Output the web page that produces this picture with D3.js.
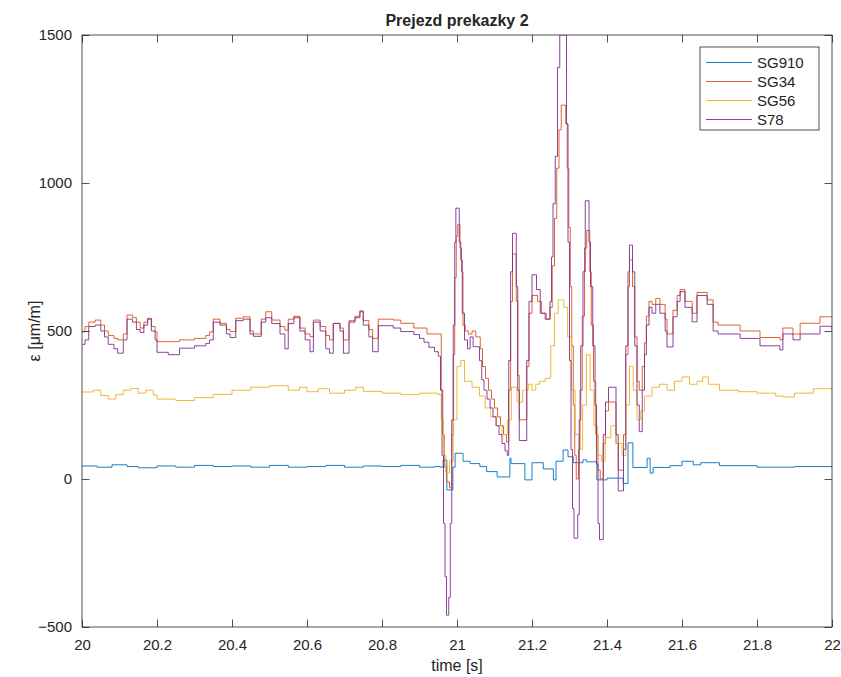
<!DOCTYPE html>
<html><head><meta charset="utf-8">
<script src="https://cdn.jsdelivr.net/npm/d3@7"></script>
<style>body{margin:0;background:#fff}text{font-family:"Liberation Sans",Arial,Helvetica,sans-serif;fill:#262626}</style>
</head><body><svg id="c" width="841" height="677"></svg>
<script>
const seriesNames = ["SG910", "SG34", "SG56", "S78"];
const seriesColors = ["#0072BD", "#D95319", "#EDB120", "#7E2F8E"];
const xTicks = [20, 20.2, 20.4, 20.6, 20.8, 21, 21.2, 21.4, 21.6, 21.8, 22];
const yTicks = [-500, 0, 500, 1000, 1500];
const titleText = "Prejezd prekazky 2";
const xLabel = "time [s]";
const yLabel = "ε [μm/m]";

// [time s, strain] pairs, sample-and-hold
const sg910 = [[20.000,44],[20.040,40],[20.080,48],[20.120,42],[20.150,38],[20.200,44],[20.250,40],[20.300,46],[20.350,42],[20.400,44],[20.450,40],[20.500,46],[20.550,40],[20.600,42],[20.650,46],[20.700,40],[20.750,44],[20.800,42],[20.850,46],[20.900,40],[20.940,42],[20.955,40],[20.963,64],[20.973,-37],[20.989,40],[20.995,87],[21.016,60],[21.035,52],[21.061,42],[21.079,25],[21.107,7],[21.141,70],[21.144,52],[21.181,-3],[21.200,55],[21.230,34],[21.257,-3],[21.264,60],[21.283,98],[21.296,75],[21.310,55],[21.336,65],[21.346,58],[21.373,-3],[21.400,3],[21.443,-15],[21.456,122],[21.469,39],[21.507,70],[21.515,20],[21.523,39],[21.568,45],[21.600,60],[21.630,48],[21.650,55],[21.700,45],[21.800,40],[21.900,42],[22.000,44]];

const sg34 = [[20.000,497],[20.008,515],[20.018,530],[20.035,537],[20.050,520],[20.060,500],[20.070,485],[20.085,475],[20.095,470],[20.110,490],[20.120,554],[20.135,545],[20.145,530],[20.155,510],[20.165,530],[20.175,543],[20.185,515],[20.195,497],[20.200,464],[20.260,470],[20.300,475],[20.330,485],[20.340,497],[20.350,540],[20.368,526],[20.385,505],[20.395,498],[20.410,543],[20.430,548],[20.448,500],[20.457,490],[20.478,540],[20.490,565],[20.506,537],[20.528,515],[20.541,503],[20.550,540],[20.565,550],[20.581,510],[20.595,490],[20.608,481],[20.617,537],[20.635,515],[20.650,485],[20.660,470],[20.670,526],[20.688,510],[20.697,470],[20.712,535],[20.728,550],[20.741,568],[20.750,535],[20.765,505],[20.775,475],[20.790,540],[20.830,537],[20.850,526],[20.885,510],[20.920,490],[20.958,300],[20.962,150],[20.966,40],[20.972,-10],[20.980,-30],[20.986,150],[20.990,420],[20.994,680],[20.998,820],[21.002,860],[21.008,780],[21.012,700],[21.016,520],[21.022,500],[21.030,490],[21.040,500],[21.050,480],[21.062,440],[21.068,380],[21.076,340],[21.084,300],[21.092,270],[21.100,240],[21.108,210],[21.116,180],[21.124,150],[21.132,125],[21.138,300],[21.143,600],[21.148,760],[21.158,600],[21.162,350],[21.166,200],[21.186,380],[21.192,560],[21.200,620],[21.215,600],[21.225,560],[21.238,540],[21.248,580],[21.254,720],[21.260,880],[21.266,1050],[21.272,1180],[21.278,1263],[21.290,1200],[21.294,1050],[21.298,850],[21.302,650],[21.306,450],[21.310,250],[21.314,80],[21.318,0],[21.324,100],[21.328,300],[21.334,550],[21.340,780],[21.346,840],[21.354,700],[21.358,520],[21.364,330],[21.370,150],[21.376,30],[21.382,0],[21.390,120],[21.396,230],[21.404,260],[21.424,120],[21.430,30],[21.444,150],[21.450,420],[21.456,650],[21.460,740],[21.468,650],[21.474,480],[21.480,330],[21.486,300],[21.494,380],[21.500,460],[21.505,550],[21.512,600],[21.520,590],[21.530,610],[21.541,590],[21.555,540],[21.560,490],[21.576,570],[21.587,620],[21.595,640],[21.608,600],[21.627,560],[21.640,630],[21.667,605],[21.683,530],[21.696,520],[21.755,500],[21.808,478],[21.861,470],[21.869,510],[21.896,490],[21.915,526],[21.968,548],[22.000,548]];

const sg56 = [[20.000,294],[20.030,300],[20.050,282],[20.070,270],[20.090,285],[20.110,300],[20.130,306],[20.150,290],[20.170,300],[20.190,284],[20.200,270],[20.250,265],[20.300,275],[20.350,286],[20.400,300],[20.450,310],[20.500,315],[20.550,300],[20.580,310],[20.600,295],[20.630,305],[20.660,290],[20.700,300],[20.730,310],[20.750,296],[20.800,290],[20.850,285],[20.900,290],[20.950,285],[20.958,200],[20.964,80],[20.970,20],[20.980,60],[20.990,200],[21.000,380],[21.010,400],[21.020,330],[21.040,310],[21.060,280],[21.075,240],[21.090,210],[21.105,180],[21.120,150],[21.135,200],[21.145,310],[21.160,260],[21.175,300],[21.190,320],[21.200,300],[21.210,320],[21.220,330],[21.235,340],[21.250,450],[21.260,560],[21.270,605],[21.285,580],[21.295,480],[21.305,300],[21.315,150],[21.325,100],[21.335,250],[21.345,420],[21.355,300],[21.365,180],[21.375,80],[21.385,60],[21.395,140],[21.410,180],[21.425,120],[21.440,80],[21.450,250],[21.460,380],[21.470,300],[21.480,200],[21.490,230],[21.500,280],[21.520,310],[21.540,320],[21.560,300],[21.580,330],[21.600,345],[21.620,320],[21.640,330],[21.655,345],[21.670,320],[21.700,300],[21.750,295],[21.800,290],[21.850,280],[21.870,277],[21.900,290],[21.950,305],[22.000,310]];

const s78 = [[20.000,455],[20.008,470],[20.018,515],[20.035,520],[20.050,500],[20.060,480],[20.070,455],[20.085,440],[20.095,425],[20.110,470],[20.120,540],[20.135,530],[20.145,505],[20.155,495],[20.165,520],[20.175,540],[20.185,500],[20.195,470],[20.200,428],[20.230,420],[20.260,442],[20.300,450],[20.330,458],[20.340,470],[20.350,530],[20.368,520],[20.385,490],[20.395,478],[20.410,535],[20.430,540],[20.448,490],[20.457,482],[20.478,530],[20.490,545],[20.506,525],[20.528,490],[20.541,440],[20.550,525],[20.565,545],[20.581,500],[20.595,470],[20.608,430],[20.617,530],[20.635,500],[20.650,440],[20.660,425],[20.670,525],[20.688,500],[20.697,425],[20.712,530],[20.728,545],[20.741,565],[20.750,520],[20.765,480],[20.775,430],[20.790,518],[20.830,510],[20.850,498],[20.885,488],[20.900,475],[20.912,462],[20.925,445],[20.940,430],[20.950,415],[20.956,300],[20.960,80],[20.964,-150],[20.968,-330],[20.972,-460],[20.978,-400],[20.982,-150],[20.986,200],[20.990,520],[20.994,800],[20.997,915],[21.006,800],[21.010,740],[21.014,560],[21.020,470],[21.028,440],[21.035,480],[21.043,447],[21.060,400],[21.066,335],[21.072,300],[21.080,270],[21.088,240],[21.096,210],[21.104,180],[21.112,150],[21.120,120],[21.128,95],[21.134,80],[21.138,400],[21.143,700],[21.148,830],[21.158,650],[21.162,300],[21.166,130],[21.186,400],[21.192,600],[21.200,690],[21.212,640],[21.222,560],[21.235,540],[21.248,600],[21.252,750],[21.256,930],[21.262,1090],[21.268,1390],[21.274,1500],[21.292,1200],[21.296,800],[21.300,400],[21.304,100],[21.308,-100],[21.312,-200],[21.322,-120],[21.326,200],[21.330,450],[21.336,700],[21.342,940],[21.352,800],[21.356,650],[21.362,450],[21.368,250],[21.372,50],[21.376,-150],[21.380,-205],[21.390,150],[21.396,260],[21.404,310],[21.424,150],[21.430,-40],[21.444,100],[21.450,450],[21.456,700],[21.460,790],[21.468,700],[21.474,450],[21.480,250],[21.486,160],[21.494,300],[21.500,420],[21.505,520],[21.512,580],[21.520,560],[21.530,590],[21.541,560],[21.555,500],[21.560,446],[21.576,548],[21.587,600],[21.595,633],[21.608,580],[21.627,531],[21.640,620],[21.667,590],[21.683,500],[21.696,490],[21.755,475],[21.808,450],[21.861,436],[21.869,490],[21.896,470],[21.915,490],[21.968,516],[22.000,503]];

const seriesData = [sg910, sg34, sg56, s78];

const W = 841, H = 677;
const m = {left: 82, right: 9, top: 35, bottom: 50};
const iw = W - m.left - m.right, ih = H - m.top - m.bottom;
const svg = d3.select("#c");
const g = svg.append("g").attr("transform", `translate(${m.left},${m.top})`);

const x = d3.scaleLinear().domain([20, 22]).range([0, iw]);
const y = d3.scaleLinear().domain([-500, 1500]).range([ih, 0]);

svg.append("defs").append("clipPath").attr("id", "clip")
  .append("rect").attr("width", iw).attr("height", ih);

const line = d3.line().curve(d3.curveStepAfter).x(d => x(d[0])).y(d => y(d[1]));
const plot = g.append("g").attr("clip-path", "url(#clip)");
seriesData.forEach((s, i) => {
  plot.append("path").datum(s).attr("d", line)
    .attr("fill", "none").attr("stroke", seriesColors[i]).attr("stroke-width", 0.9);
});

const tl = 7.5;
const axCol = "#262626";
function styleAxis(sel) {
  sel.select(".domain").remove();
  sel.selectAll("line").attr("stroke", axCol).attr("stroke-width", 0.8);
  sel.selectAll("text").attr("font-size", 15).attr("fill", axCol);
}
g.append("g").attr("transform", `translate(0,${ih})`)
  .call(d3.axisBottom(x).tickValues(xTicks).tickSize(-tl).tickPadding(12).tickFormat(d3.format("~g")))
  .call(styleAxis);
g.append("g")
  .call(d3.axisTop(x).tickValues(xTicks).tickSize(-tl).tickFormat(""))
  .call(styleAxis);
g.append("g")
  .call(d3.axisLeft(y).tickValues(yTicks).tickSize(-tl).tickPadding(10).tickFormat(d3.format("d")))
  .call(styleAxis);
g.append("g").attr("transform", `translate(${iw},0)`)
  .call(d3.axisRight(y).tickValues(yTicks).tickSize(-tl).tickFormat(""))
  .call(styleAxis);
g.append("rect").attr("width", iw).attr("height", ih)
  .attr("fill", "none").attr("stroke", axCol).attr("stroke-width", 0.8);

svg.append("text").attr("x", m.left + iw / 2).attr("y", 26).attr("text-anchor", "middle")
  .attr("font-size", 16).attr("font-weight", "bold").attr("fill", "#000").text(titleText);
svg.append("text").attr("x", m.left + iw / 2).attr("y", 671).attr("text-anchor", "middle")
  .attr("font-size", 16).text(xLabel);
svg.append("text").attr("transform", `translate(40,${m.top + ih / 2}) rotate(-90)`)
  .attr("text-anchor", "middle").attr("font-size", 16).text(yLabel);

// legend
const lg = svg.append("g").attr("transform", "translate(700,47)");
lg.append("rect").attr("width", 119).attr("height", 83)
  .attr("fill", "#fff").attr("stroke", axCol).attr("stroke-width", 0.8);
seriesNames.forEach((n, i) => {
  const yy = 15.5 + i * 19;
  lg.append("line").attr("x1", 6).attr("x2", 52).attr("y1", yy).attr("y2", yy)
    .attr("stroke", seriesColors[i]).attr("stroke-width", 0.9);
  lg.append("text").attr("x", 57).attr("y", yy + 5).attr("font-size", 15).attr("fill", "#000").text(n);
});
</script></body></html>
